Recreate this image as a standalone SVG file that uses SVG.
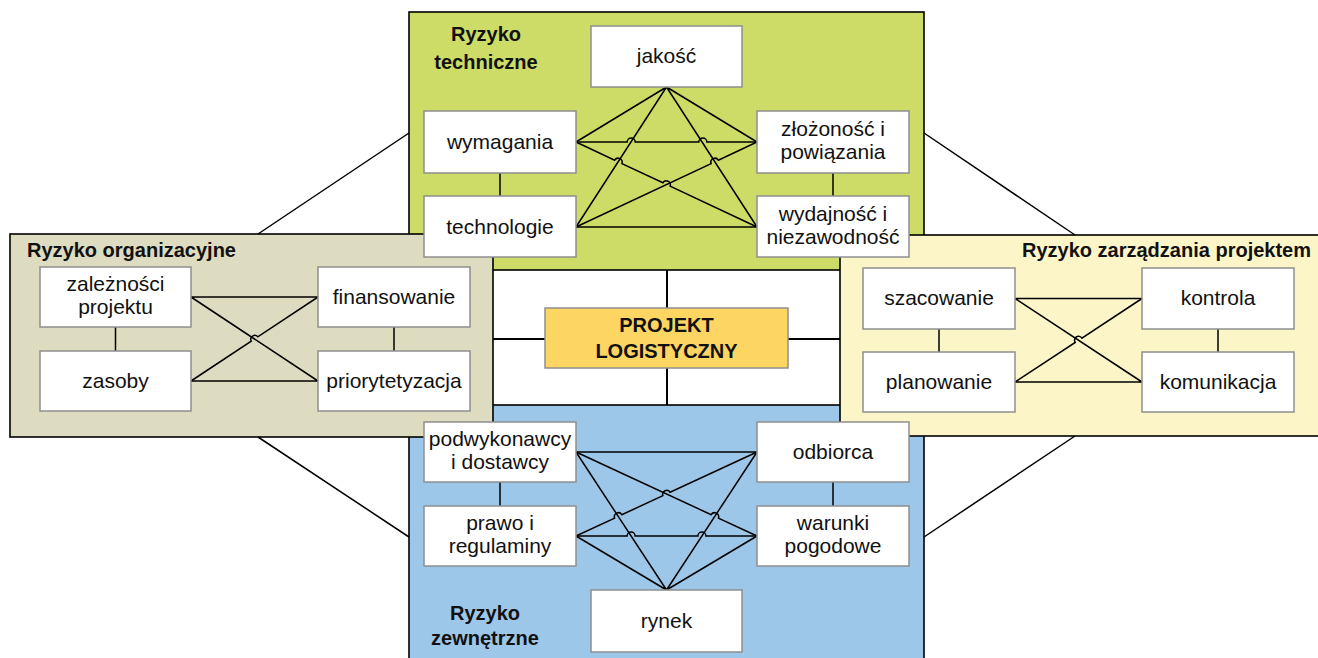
<svg xmlns="http://www.w3.org/2000/svg" width="1318" height="658" viewBox="0 0 1318 658">
<style>
.area{stroke:#000;stroke-width:1.6}
.node rect{fill:#fff;stroke:#8f8f8f;stroke-width:1.5}
.t{font-family:"Liberation Sans",Arial,sans-serif;font-size:21px;fill:#111;text-anchor:middle}
.h{font-family:"Liberation Sans",Arial,sans-serif;font-size:20px;font-weight:bold;fill:#111}
.c{fill:none;stroke:#000;stroke-width:1.5}
.x{fill:none;stroke:#000;stroke-width:2}
</style>
<rect width="1318" height="658" fill="#fff"/>
<g id="area-techniczne">
<rect class="area" x="409" y="12" width="515" height="258" fill="#CDDC66"/>
</g>
<g id="area-zewnetrzne">
<rect class="area" x="409" y="405" width="515" height="270" fill="#9DC7E9"/>
</g>
<g id="area-organizacyjne">
<rect class="area" x="10" y="234" width="483" height="203" fill="#DDDCC0"/>
</g>
<g id="area-zarzadzania">
<rect class="area" x="840" y="235" width="490" height="201" fill="#FBF5C8"/>
</g>
<g id="connectors">
<path class="c" d="M258,234 L409,133 M258,437 L409,537 M924,133 L1075,235 M924,537 L1075,436"/>
<path class="x" d="M667,270 V308 M667,368 V405 M493,339 H545 M788,339 H840"/>
<!-- techniczne -->
<path class="c" d="M666.5,87 L576,142 M666.5,87 L757,142 M666.5,87 L576,227 M666.5,87 L757,227 M576,227 H757 M500,173 V196 M833,173 V196"/>
<path class="c" d="M576,142 H627.2 A4,4 0 0 1 635.2,142 H698.8 A4,4 0 0 1 706.8,142 H757"/>
<path class="c" d="M576,142 L614.7,160.2 A4,4 0 0 1 621.9,163.6 L662.9,182.8 A4,4 0 0 1 670.1,186.2 L757,227"/>
<path class="c" d="M576,227 L711.1,163.6 A4,4 0 0 1 718.3,160.2 L757,142"/>
<!-- zewnetrzne -->
<path class="c" d="M576,452 H757 M576,452 L666.5,590 M576,536 L666.5,590 M757,452 L666.5,590 M757,536 L666.5,590 M500,482 V506 M833,482 V506"/>
<path class="c" d="M576,536 H627.1 A4,4 0 0 1 635.1,536 H697.9 A4,4 0 0 1 705.9,536 H757"/>
<path class="c" d="M576,536 L614.6,518.1 A4,4 0 0 1 621.8,514.7 L662.9,495.7 A4,4 0 0 1 670.1,492.3 L757,452"/>
<path class="c" d="M576,452 L711.2,514.7 A4,4 0 0 1 718.4,518.1 L757,536"/>
<!-- organizacyjne -->
<path class="c" d="M191,297 H318 M191,381 H318 M191,297 L318,381 M115.5,327 V351 M394,327 V351"/>
<path class="c" d="M191,381 L251.2,341.2 A4,4 0 0 1 257.8,336.8 L318,297"/>
<!-- zarzadzania -->
<path class="c" d="M1015,298.5 H1142 M1015,382 H1142 M1015,298.5 L1142,382 M939,329 V352 M1218,329 V352"/>
<path class="c" d="M1015,382 L1075.2,342.5 A4,4 0 0 1 1081.9,338.1 L1142,298.5"/>
</g>
<g id="title-techniczne"><text class="h" x="486" y="41" text-anchor="middle">Ryzyko</text><text class="h" x="486" y="69" text-anchor="middle">techniczne</text></g>
<g id="title-zewnetrzne"><text class="h" x="485" y="620" text-anchor="middle">Ryzyko</text><text class="h" x="485" y="645" text-anchor="middle">zewnętrzne</text></g>
<g id="title-organizacyjne"><text class="h" x="27" y="257">Ryzyko organizacyjne</text></g>
<g id="title-zarzadzania"><text class="h" x="1311" y="257" text-anchor="end">Ryzyko zarządzania projektem</text></g>
<g id="node-jakosc" class="node"><rect x="591" y="26" width="151" height="61"/><text class="t" x="666.5" y="63">jakość</text></g>
<g id="node-wymagania" class="node"><rect x="424" y="111" width="152" height="62"/><text class="t" x="500" y="149">wymagania</text></g>
<g id="node-zlozonosc" class="node"><rect x="757" y="111" width="152" height="62"/><text class="t" x="833" y="136">złożoność i</text><text class="t" x="833" y="159">powiązania</text></g>
<g id="node-technologie" class="node"><rect x="424" y="196" width="152" height="61"/><text class="t" x="500" y="234">technologie</text></g>
<g id="node-wydajnosc" class="node"><rect x="757" y="196" width="152" height="61"/><text class="t" x="833" y="221">wydajność i</text><text class="t" x="833" y="244">niezawodność</text></g>
<g id="node-zaleznosci" class="node"><rect x="40" y="267" width="151" height="60"/><text class="t" x="115.5" y="291">zależności</text><text class="t" x="115.5" y="314">projektu</text></g>
<g id="node-finansowanie" class="node"><rect x="318" y="267" width="152" height="60"/><text class="t" x="394" y="304">finansowanie</text></g>
<g id="node-zasoby" class="node"><rect x="40" y="351" width="151" height="60"/><text class="t" x="115.5" y="388">zasoby</text></g>
<g id="node-priorytetyzacja" class="node"><rect x="318" y="351" width="152" height="60"/><text class="t" x="394" y="388">priorytetyzacja</text></g>
<g id="node-szacowanie" class="node"><rect x="863" y="268" width="152" height="61"/><text class="t" x="939" y="305">szacowanie</text></g>
<g id="node-kontrola" class="node"><rect x="1142" y="268" width="152" height="61"/><text class="t" x="1218" y="305">kontrola</text></g>
<g id="node-planowanie" class="node"><rect x="863" y="352" width="152" height="60"/><text class="t" x="939" y="389">planowanie</text></g>
<g id="node-komunikacja" class="node"><rect x="1142" y="352" width="152" height="60"/><text class="t" x="1218" y="389">komunikacja</text></g>
<g id="node-podwykonawcy" class="node"><rect x="424" y="422" width="152" height="60"/><text class="t" x="500" y="446">podwykonawcy</text><text class="t" x="500" y="469">i dostawcy</text></g>
<g id="node-odbiorca" class="node"><rect x="757" y="422" width="152" height="60"/><text class="t" x="833" y="459">odbiorca</text></g>
<g id="node-prawo" class="node"><rect x="424" y="506" width="152" height="60"/><text class="t" x="500" y="530">prawo i</text><text class="t" x="500" y="553">regulaminy</text></g>
<g id="node-warunki" class="node"><rect x="757" y="506" width="152" height="60"/><text class="t" x="833" y="530">warunki</text><text class="t" x="833" y="553">pogodowe</text></g>
<g id="node-rynek" class="node"><rect x="591" y="590" width="151" height="62"/><text class="t" x="666.5" y="628">rynek</text></g>
<g id="node-projekt"><rect x="545" y="308" width="243" height="60" fill="#FDD562" stroke="#8f8f8f" stroke-width="1.5"/><text class="h" x="666.5" y="332" text-anchor="middle">PROJEKT</text><text class="h" x="666.5" y="358" text-anchor="middle">LOGISTYCZNY</text></g>
</svg>
